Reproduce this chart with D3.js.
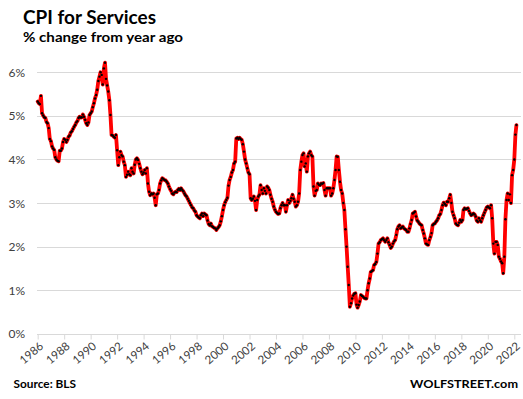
<!DOCTYPE html>
<html><head><meta charset="utf-8">
<script src="https://cdn.jsdelivr.net/npm/d3@7"></script>
<style>body{margin:0;background:#fff}svg{display:block}</style>
</head><body><svg id="c" width="523" height="399"></svg>
<script>
// CPI for Services, % change from year ago, monthly from Jan 1986
const cpi1980s = [
 5.33,5.29,5.27,5.46,5.06,5.01,4.97,4.95,4.86,4.83,4.72,4.47,
 4.42,4.30,4.25,4.22,4.05,4.00,3.97,3.96,4.20,4.20,4.25,4.40,
 4.47,4.45,4.40,4.45,4.52,4.55,4.62,4.65,4.70,4.75,4.79,4.85,
 4.88,4.95,4.98,4.96,4.97,5.03,4.98,4.91,4.83,4.79,4.85,5.02];
const cpi1990s = [
 5.06,5.10,5.20,5.29,5.40,5.48,5.60,5.80,5.90,6.00,5.94,5.72,
 6.09,6.22,5.85,5.70,5.56,5.36,5.02,4.56,4.55,4.52,4.50,4.56,
 4.21,3.87,4.05,4.18,4.10,4.07,3.95,3.87,3.60,3.65,3.72,3.66,
 3.64,3.80,3.72,3.68,3.88,4.00,4.03,3.99,3.90,3.80,3.72,3.66,
 3.70,3.76,3.68,3.80,3.45,3.26,3.18,3.22,3.20,3.22,3.12,2.95,
 3.20,3.22,3.30,3.45,3.52,3.57,3.55,3.53,3.52,3.49,3.45,3.38,
 3.32,3.28,3.22,3.20,3.24,3.26,3.25,3.30,3.33,3.30,3.34,3.30,
 3.27,3.22,3.18,3.15,3.10,3.05,3.00,2.95,2.90,2.88,2.83,2.80,
 2.72,2.69,2.67,2.65,2.72,2.76,2.70,2.76,2.74,2.72,2.60,2.52,
 2.49,2.53,2.47,2.45,2.43,2.42,2.38,2.42,2.45,2.49,2.58,2.70];
const cpi2000s = [
 2.84,2.95,3.02,3.07,3.12,3.40,3.53,3.60,3.70,3.76,3.91,3.95,
 4.48,4.50,4.47,4.50,4.47,4.45,4.35,4.18,4.00,3.91,3.80,3.70,
 3.66,3.11,3.07,3.10,3.15,3.05,2.84,3.07,3.15,3.19,3.41,3.30,
 3.22,3.34,3.28,3.22,3.38,3.35,3.30,3.19,3.10,3.03,2.92,2.85,
 2.80,2.77,2.75,2.76,2.88,2.95,3.00,2.95,2.95,2.80,2.95,3.07,
 3.00,3.05,3.11,3.19,3.10,3.03,2.92,2.95,3.03,3.22,3.76,3.95,
 4.10,4.14,3.84,3.91,3.72,4.07,4.14,4.18,4.10,4.07,3.38,3.17,
 3.28,3.30,3.45,3.42,3.41,3.45,3.44,3.46,3.30,3.17,3.34,3.34,
 3.34,3.34,3.17,3.22,3.34,3.53,3.76,4.07,4.06,3.76,3.49,3.30,
 3.22,3.00,2.84,2.40,2.00,1.54,1.12,0.62,0.70,0.81,0.88,0.92];
const cpi2010s = [
 0.93,0.67,0.60,0.66,0.74,0.89,0.87,0.85,0.82,0.81,0.81,1.00,
 1.16,1.27,1.42,1.44,1.46,1.58,1.60,1.65,1.84,2.07,2.10,2.15,
 2.17,2.19,2.15,2.11,2.15,2.19,2.10,2.04,1.97,2.00,2.07,2.12,
 2.15,2.27,2.40,2.46,2.49,2.42,2.44,2.46,2.42,2.40,2.38,2.34,
 2.34,2.42,2.52,2.61,2.76,2.78,2.80,2.69,2.60,2.57,2.53,2.51,
 2.49,2.38,2.30,2.19,2.07,2.05,2.04,2.15,2.22,2.31,2.49,2.52,
 2.53,2.57,2.60,2.65,2.72,2.75,2.84,2.95,3.01,2.98,2.95,3.03,
 3.03,3.11,3.19,3.00,2.80,2.72,2.65,2.53,2.50,2.49,2.55,2.61,
 2.57,2.61,2.84,2.88,2.86,2.87,2.88,2.82,2.76,2.72,2.74,2.76,
 2.74,2.69,2.60,2.57,2.65,2.60,2.57,2.65,2.72,2.78,2.84,2.90];
const cpi2020s = [
 2.92,2.90,2.88,2.95,2.65,2.07,1.84,2.11,2.11,2.04,1.77,1.72,
 1.66,1.62,1.39,1.77,2.63,3.07,3.22,3.07,3.20,3.00,3.64,3.76,
 4.00,4.57,4.79];
const yTicks = [0,1,2,3,4,5,6];
const xTickYears = d3.range(1986, 2023, 2);

const values = [].concat(cpi1980s, cpi1990s, cpi2000s, cpi2010s, cpi2020s);
const data = values.map((v,i) => ({date: new Date(1986, i, 1), v}));

const svg = d3.select("#c");
const font = "Lato, 'Open Sans', sans-serif";

const x = d3.scaleTime().domain([new Date(1986,0,1), new Date(2022,0,1)]).range([37.7, 514.3]);
const y = d3.scaleLinear().domain([0,6]).range([333.8, 72.3]);
const plotLeft = 37, plotRight = 521;

// gridlines
svg.append("g").selectAll("line").data(yTicks.filter(d=>d>0)).join("line")
  .attr("x1", plotLeft).attr("x2", plotRight)
  .attr("y1", d=>Math.round(y(d))+0.5).attr("y2", d=>Math.round(y(d))+0.5)
  .attr("stroke", "#d9d9d9").attr("stroke-width", 1);

// y labels
svg.append("g").selectAll("text").data(yTicks).join("text")
  .attr("x", 25).attr("y", d=>y(d)+4.5).attr("text-anchor","end")
  .attr("font-family", font).attr("font-size", 12).attr("fill", "#404040")
  .text(d=>d+"%");

// x axis
const xAxis = d3.axisBottom(x).tickValues(xTickYears.map(yr=>new Date(yr,0,1)))
  .tickSize(5).tickFormat(d3.timeFormat("%Y"));
const gx = svg.append("g").attr("transform", `translate(0,${Math.round(y(0))+0.5})`).call(xAxis);
gx.select(".domain").attr("d", `M${plotLeft},0H${plotRight}`).attr("stroke", "#d9d9d9");
gx.selectAll(".tick line").attr("stroke", "#d9d9d9");
gx.selectAll(".tick text")
  .attr("font-family", font).attr("font-size", 11.5).attr("fill", "#404040")
  .attr("text-anchor", "end").attr("dy", null).attr("y", 0)
  .attr("transform", "translate(6,13) rotate(-40)");

// line
const line = d3.line().x(d=>x(d.date)).y(d=>y(d.v));
svg.append("path").datum(data).attr("d", line)
  .attr("fill","none").attr("stroke","#ff0000").attr("stroke-width",3.8)
  .attr("stroke-linejoin","round").attr("stroke-linecap","round");

// markers
svg.append("g").selectAll("circle").data(data).join("circle")
  .attr("cx", d=>x(d.date)).attr("cy", d=>y(d.v)).attr("r", 1.2).attr("fill", "#000");

// titles
svg.append("text").attr("x", 23).attr("y", 24).attr("font-family", font)
  .attr("font-weight", "bold").attr("font-size", 19).attr("fill", "#000")
  .attr("textLength", 133).attr("lengthAdjust", "spacingAndGlyphs").text("CPI for Services");
svg.append("text").attr("x", 23).attr("y", 41.5).attr("font-family", font)
  .attr("font-weight", "bold").attr("font-size", 14).attr("fill", "#000")
  .attr("textLength", 160).attr("lengthAdjust", "spacingAndGlyphs").text("% change from year ago");
svg.append("text").attr("x", 13.5).attr("y", 387.5).attr("font-family", font)
  .attr("font-weight", "bold").attr("font-size", 11).attr("fill", "#000")
  .attr("textLength", 62.5).attr("lengthAdjust", "spacingAndGlyphs").text("Source: BLS");
svg.append("text").attr("x", 410).attr("y", 387.5).attr("font-family", font)
  .attr("font-weight", "bold").attr("font-size", 11.5).attr("fill", "#000")
  .attr("textLength", 108).attr("lengthAdjust", "spacingAndGlyphs").text("WOLFSTREET.com");
</script></body></html>
